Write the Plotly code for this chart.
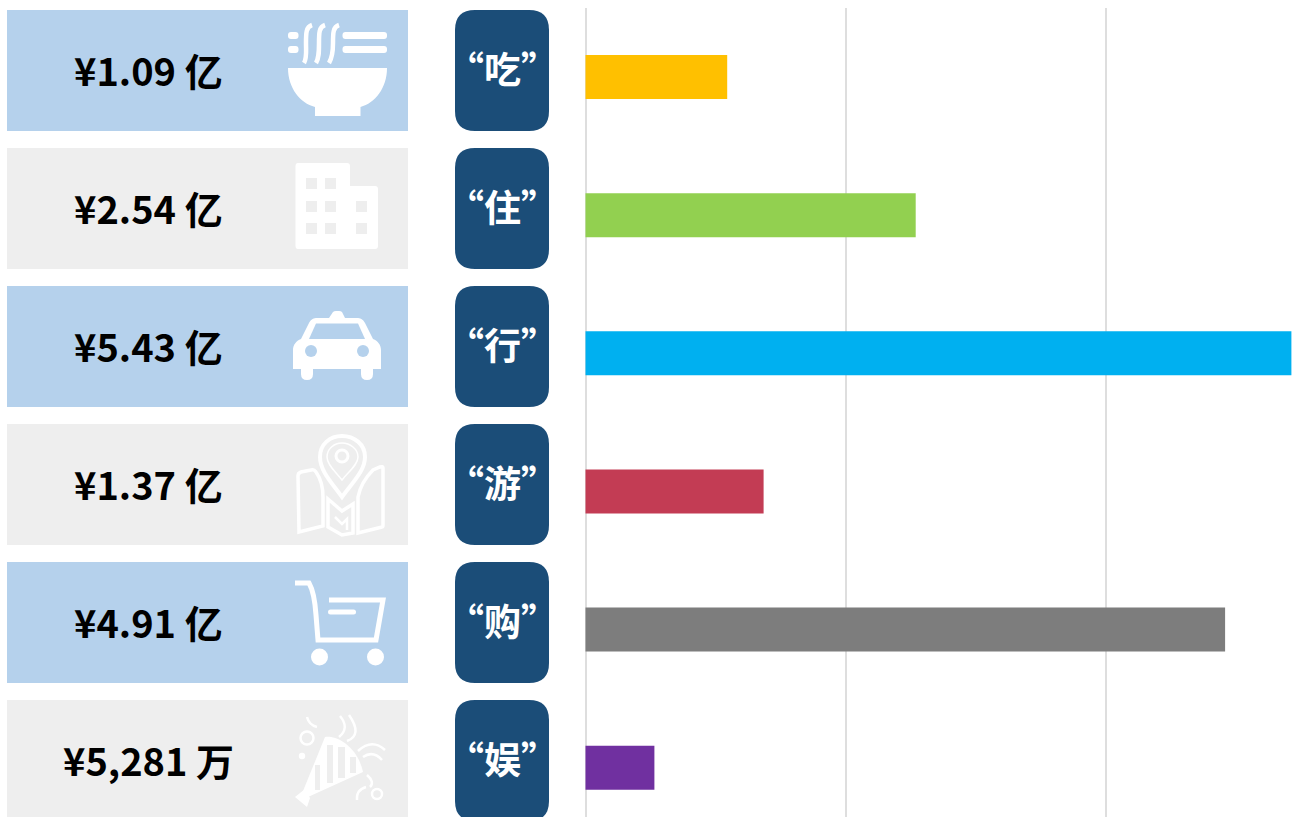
import plotly.graph_objects as go

# ---- data ----
categories = ["吃", "住", "行", "游", "购", "娱"]
values = [1.09, 2.54, 5.43, 1.37, 4.92, 0.53]
value_labels = ["¥1.09 亿", "¥2.54 亿", "¥5.43 亿", "¥1.37 亿", "¥4.91 亿", "¥5,281 万"]
bar_colors = ["#FFC000", "#92D050", "#00B0F0", "#C33C54", "#7D7D7D", "#7030A0"]

W, H = 1296, 817
FONT = "Noto Sans CJK SC"
BLUE, GRAY, NAVY, WHITE = "#B5D1EC", "#EEEEEE", "#1B4D78", "#FFFFFF"
PX_PER_UNIT = 130.0
X0 = 585.5
LEFT_PAD = 4.0
ROW_PITCH = 138.15
ROW0_CENTER = 77.0
TOP = 8.0

shapes = []


def add(kind, **kw):
    shapes.append(dict(type=kind, xref="x2", yref="y2", layer="below", **kw))


def fill(path, color=WHITE):
    add("path", path=path, fillcolor=color, line=dict(width=0))


def stroke(path, width=4, color=WHITE):
    add("path", path=path, fillcolor="rgba(0,0,0,0)", line=dict(color=color, width=width))


def rrect_path(x0, y0, x1, y1, r):
    return (f"M{x0+r},{y0} H{x1-r} Q{x1},{y0} {x1},{y0+r} V{y1-r} Q{x1},{y1} {x1-r},{y1} "
            f"H{x0+r} Q{x0},{y1} {x0},{y1-r} V{y0+r} Q{x0},{y0} {x0+r},{y0} Z")


def disc(cx, cy, r, color=WHITE):
    add("circle", x0=cx-r, x1=cx+r, y0=cy-r, y1=cy+r, fillcolor=color, line=dict(width=0))


def ring(cx, cy, r, width=2.5, color=WHITE):
    add("circle", x0=cx-r, x1=cx+r, y0=cy-r, y1=cy+r, fillcolor="rgba(0,0,0,0)",
        line=dict(color=color, width=width))


# row cards
for i in range(len(categories)):
    top = 10 + 138.0 * i
    add("rect", x0=7, x1=408, y0=top, y1=top+121, fillcolor=BLUE if i % 2 == 0 else GRAY, line=dict(width=0))
    fill(rrect_path(455, top, 549, top+121, 20), NAVY)

# --- bowl ---
fill("M288,68 H387 C387,88 375,103 360.5,107 V116 H315 V107 C300,103 288,88 288,68 Z")
for xa, xb in [(312, 304), (325, 316), (339, 329)]:
    stroke(f"M{xa},25 C{xa-6},27 {xa-6},33 {xa-6},43 C{xa-6},52 {xb+3},58 {xb},63", 4.5)
for y0, y1 in [(32, 39), (46, 53)]:
    fill(rrect_path(288, y0, 298.5, y1, 3))
    fill(rrect_path(342.5, y0, 387, y1, 3))

# --- building ---
fill("M298,163 H347 Q350,163 350,166 V186 H375 Q378,186 378,189 V246 Q378,249 375,249 "
     "H298 Q295.5,249 295.5,246 V166 Q295.5,163 298,163 Z")
for y0 in (178, 201, 223):
    for x0 in (306, 325, 356):
        if y0 == 178 and x0 == 356:
            continue
        add("rect", x0=x0, x1=x0+11, y0=y0, y1=y0+11, fillcolor=GRAY, line=dict(width=0))

# --- taxi ---
fill("M329,318 L333,312 Q334,311 336,311 H339 Q341,311 342,312 L345,318 Z")
fill("M293,369 V350 C293,345 296,341 301,339 L309,323 C311,319 314,318 317,318 H357 "
     "C360,318 363,319 365,323 L373,339 C378,341 381,345 381,350 V369 Z")
fill(rrect_path(301, 362, 313, 380, 6))
fill(rrect_path(361, 362, 373, 380, 6))
fill("M309,339 L316,323.5 H358 L365,339 Z", BLUE)
disc(311, 351, 6, BLUE)
disc(363, 351, 6, BLUE)

# --- map pin ---
stroke("M342,497 C332,483 320,471 320,457 C320,444 330,436 342,436 C354,436 365,444 365,457 "
       "C365,471 352,483 342,497 Z", 4)
stroke("M342,480 C336,472 327,465 327,457 C327,449 334,443 342,443 C350,443 358,449 358,457 "
       "C358,465 348,472 342,480 Z", 1.5)
ring(342, 456, 6, 3)
stroke("M298,476 Q298,473 301,472 L311,470 Q314,469 316,472 Q323,482 323,497 V526 L299,532 Z", 3.5)
stroke("M383,468 Q383,466 380,467 L373,470 Q361,482 358,497 V533 L382,527 Q383,527 383,525 Z", 3.5)
stroke("M328,499 L342,511 L353,504 V533 L342,535 L328,527 Z", 3.5)
stroke("M335,517 L342,524 L347,519 V530", 2.5)

# --- cart ---
stroke("M295,583 H309 C313,590 315,600 316,615 L318,640 H376 L383,600 H329", 5)
fill(rrect_path(328, 609.5, 356, 614.5, 2.5))
disc(319.5, 657, 8.5)
disc(375.5, 657, 8.5)

# --- confetti ---
fill("M295,797 L305,789 L310,798 L307,807 Z")
fill("M303,791 L325,737 C338,735 358,748 363,772 L308,797 Z")
for x0, y0, x1, y1 in [(315, 765, 320, 790), (327, 745, 333, 783), (338, 747, 345, 778), (350, 757, 356, 773)]:
    add("rect", x0=x0, x1=x1, y0=y0, y1=y1, fillcolor=GRAY, line=dict(width=0))
ring(307, 738, 6.5, 2.5)
disc(302, 756, 3.2)
ring(377, 794, 5, 2.5)
stroke("M307,717 Q309,725 317,727", 2.5)
stroke("M340,716 Q350,728 339,737", 2.5)
stroke("M349,715 Q363,735 347,741", 2.5)
stroke("M358,751 Q372,738 385,750", 2.5)
stroke("M363,757 Q373,750 382,760", 2.5)
stroke("M357,800 Q356,790 366,787", 2.5)
stroke("M367,775 Q375,782 370,787", 2.5)

# --- annotations ---
annotations = []
for i, (cat, lab) in enumerate(zip(categories, value_labels)):
    cy = 69 + 138.0 * i
    annotations.append(dict(text=f"<b>{lab}</b>", x=148.5, y=cy, xref="x2", yref="y2", showarrow=False,
                            xanchor="center", yanchor="middle",
                            font=dict(family=FONT, size=38, color="#000000")))
    annotations.append(dict(text=f"<b>“{cat}”</b>", x=502, y=cy-1, xref="x2", yref="y2", showarrow=False,
                            xanchor="center", yanchor="middle",
                            font=dict(family=FONT, size=37, color=WHITE)))

fig = go.Figure()
fig.add_trace(go.Bar(x=values, y=list(range(len(values))), orientation="h",
                     marker=dict(color=bar_colors, line=dict(width=0)),
                     width=44 / ROW_PITCH, hoverinfo="skip"))
# invisible page-pixel axes used for the decorations
fig.add_trace(go.Scatter(x=[0], y=[0], xaxis="x2", yaxis="y2", mode="markers",
                         marker=dict(opacity=0), hoverinfo="skip"))

fig.update_layout(
    width=W, height=H, margin=dict(l=0, r=0, t=0, b=0, pad=0),
    paper_bgcolor="white", plot_bgcolor="rgba(0,0,0,0)", showlegend=False,
    xaxis=dict(domain=[(X0 - LEFT_PAD) / W, 1], range=[-LEFT_PAD / PX_PER_UNIT, (W - X0) / PX_PER_UNIT],
               tick0=0, dtick=2, showgrid=True, gridcolor="#DEDEDE", gridwidth=2, zeroline=False,
               showticklabels=False, ticks="", anchor="y"),
    yaxis=dict(domain=[0, 1 - TOP / H],
               range=[(H - ROW0_CENTER) / ROW_PITCH, -(ROW0_CENTER - TOP) / ROW_PITCH],
               showgrid=False, zeroline=False, showticklabels=False, ticks="", anchor="x"),
    xaxis2=dict(domain=[0, 1], range=[0, W], visible=False, anchor="y2"),
    yaxis2=dict(domain=[0, 1], range=[H, 0], visible=False, anchor="x2"),
    shapes=shapes, annotations=annotations,
)

fig.write_html("out.html", config=dict(displayModeBar=False),
               post_script="document.body.style.margin='0';document.body.style.overflow='hidden';")
